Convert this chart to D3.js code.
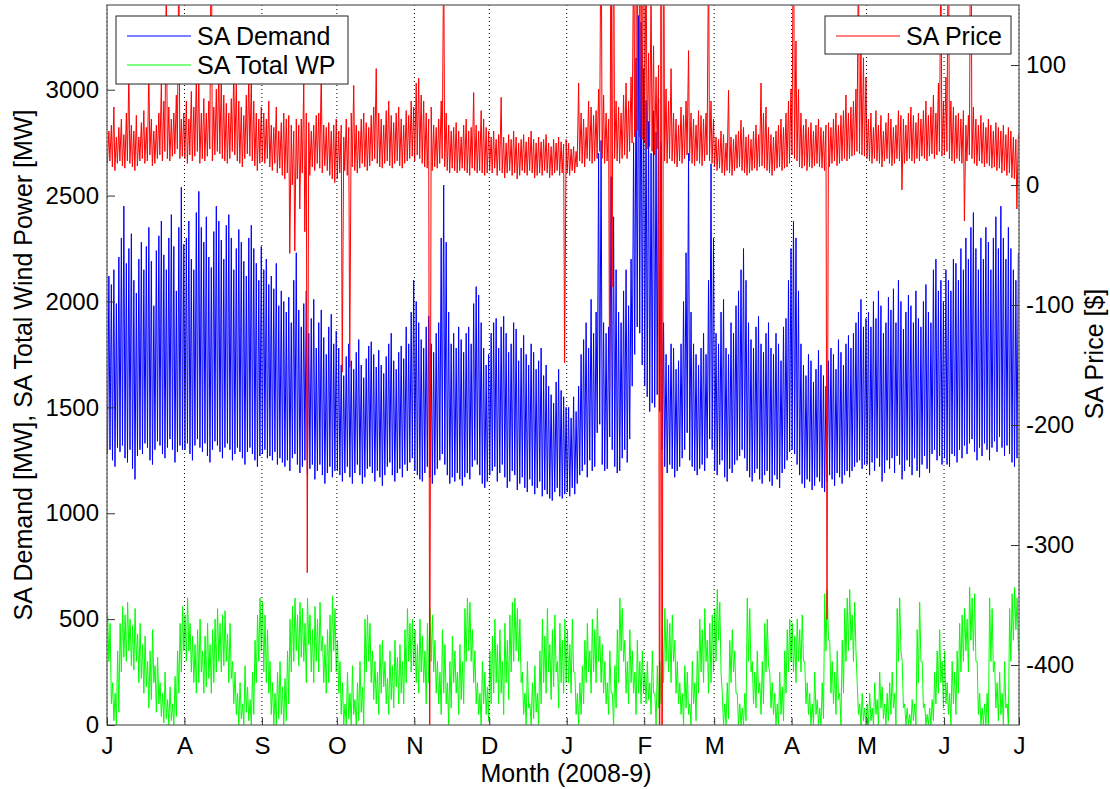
<!DOCTYPE html>
<html>
<head>
<meta charset="utf-8">
<script src="https://cdn.jsdelivr.net/npm/d3@7"></script>
<style>
body { margin: 0; background: #fff; }
svg { font-family: "Liberation Sans", Arial, sans-serif; }
</style>
</head>
<body>
<svg></svg>
<script>
// month tick labels, Jul 2008 .. Jul 2009
var tickLabels = ["J","A","S","O","N","D","J","F","M","A","M","J","J"];
var leftTicks = [0, 500, 1000, 1500, 2000, 2500, 3000];
var rightTicks = [-400, -300, -200, -100, 0, 100];

// daily peak / trough of SA demand [MW], one value per day from 1 Jul 2008
var demandHigh = [
2120,2080,2150,1990,2210,2300,2450,2180,2250,2320,2100,2040,2200,2280,2150,2260,2350,2190,1980,2240,2310,2380,2220,2150,2300,2410,2260,2050,2350,2540,2270,
2300,2380,2200,2150,2420,2520,2350,2280,2400,2210,2160,2330,2450,2380,2290,2200,2360,2410,2300,2150,2250,2340,2280,2190,2120,2300,2360,2250,2180,2100,2260,
2150,2200,2080,2120,2060,2180,1980,2050,2000,1950,2020,1900,2100,2230,1960,1880,1990,2050,1850,1920,2010,1780,1900,1960,1830,1750,1880,1940,1800,1860,
1780,1700,1650,1740,1800,1720,1680,1760,1820,1700,1640,1730,1790,1810,1750,1690,1770,1700,1660,1740,1800,1850,1720,1680,1760,1790,1730,1880,1800,1950,2100,
2000,1900,1820,1780,1880,1930,1800,1760,1850,1900,2300,2550,2280,1950,1800,1850,1780,1880,1820,1760,1850,1880,1800,1990,2070,2030,1900,1780,1700,1750,
1850,1900,1920,1780,1880,1930,1850,1760,1800,1900,1870,1720,1780,1840,1750,1700,1800,1760,1680,1720,1780,1650,1700,1600,1560,1520,1620,1680,1580,1550,1500,
1500,1450,1550,1480,1600,1750,1820,1900,1780,2010,1850,1950,2700,2760,1900,1850,1880,2590,2400,2150,1950,1900,2050,2150,1980,2200,2750,3150,3350,3320,3100,
2950,2850,2700,2900,2800,2960,2750,1900,1750,1700,1800,1780,1680,1720,1800,2000,2230,2700,1950,1800,1750,1700,1780,1850,1750,2100,2650,2300,
1850,1800,1950,2010,1780,1750,1900,1850,1980,2050,2150,2250,2100,1900,1820,1780,1880,1930,1800,1760,1850,1900,1780,1750,1850,1800,1720,1880,1920,2100,2250,
2380,2300,2050,1800,1700,1650,1750,1720,1620,1680,1770,1700,1650,1600,1720,1780,1750,1680,1820,1760,1700,1800,1840,1780,1850,1900,1950,2010,1880,1920,
1950,1880,2000,1920,2050,1980,1850,1900,2020,1960,2060,1900,2100,2000,1870,1950,2030,1980,1900,2050,1920,1880,2000,2080,1950,1900,2150,2200,2050,2100,2000,
2150,2100,2050,2200,2180,2100,2250,2150,2300,2200,2350,2420,2250,2150,2300,2200,2350,2280,2150,2300,2400,2250,2450,2300,2200,2350,2250,2150,2100,2230
];
var demandLow = [
1280,1300,1250,1220,1310,1290,1320,1260,1240,1300,1210,1160,1270,1300,1280,1330,1310,1250,1230,1300,1340,1320,1280,1260,1310,1350,1300,1240,1290,1320,1300,
1300,1330,1280,1250,1320,1350,1310,1290,1330,1270,1240,1300,1340,1320,1290,1260,1310,1330,1300,1250,1280,1310,1290,1260,1230,1290,1310,1280,1250,1220,1270,
1280,1300,1260,1270,1250,1290,1230,1260,1240,1220,1250,1200,1260,1280,1230,1190,1220,1250,1180,1210,1230,1160,1200,1230,1180,1140,1190,1220,1170,1200,
1200,1180,1150,1190,1220,1170,1140,1190,1230,1180,1140,1170,1210,1220,1190,1150,1200,1170,1130,1180,1220,1240,1180,1150,1190,1210,1170,1230,1200,1240,1260,
1200,1180,1160,1150,1190,1220,1170,1140,1180,1210,1250,1280,1230,1180,1140,1170,1150,1190,1160,1130,1170,1190,1160,1220,1250,1230,1180,1140,1120,1150,
1180,1200,1220,1150,1190,1230,1170,1120,1150,1200,1180,1110,1140,1170,1120,1100,1160,1130,1090,1120,1150,1080,1110,1090,1070,1060,1100,1120,1080,1070,1090,
1100,1080,1120,1090,1140,1180,1200,1230,1170,1250,1200,1220,1380,1420,1230,1200,1210,1360,1300,1220,1190,1200,1260,1300,1240,1350,1600,1750,1880,1850,1700,
1600,1550,1480,1520,1500,1560,1480,1300,1220,1190,1230,1210,1170,1200,1220,1260,1300,1380,1250,1220,1200,1180,1210,1230,1200,1260,1350,1300,
1200,1180,1230,1250,1170,1150,1210,1190,1230,1250,1270,1300,1260,1200,1170,1150,1190,1210,1160,1140,1180,1200,1150,1130,1180,1160,1120,1190,1210,1250,1290,
1300,1280,1230,1180,1140,1120,1160,1150,1110,1130,1170,1150,1120,1100,1150,1180,1160,1130,1190,1170,1140,1180,1200,1170,1200,1220,1240,1250,1210,1230,
1230,1180,1240,1200,1260,1220,1150,1190,1250,1210,1260,1190,1270,1230,1160,1200,1250,1220,1180,1260,1200,1170,1230,1270,1210,1190,1280,1300,1250,1270,1230,
1260,1230,1220,1280,1270,1240,1300,1260,1320,1280,1330,1350,1290,1250,1310,1270,1330,1300,1250,1310,1340,1290,1360,1310,1270,1320,1280,1240,1220,1260
];

// daily high / low of SA total wind power [MW]
var windHigh = [
520,480,200,150,350,480,560,520,580,500,470,550,430,480,380,420,300,350,450,280,320,200,150,250,120,180,100,230,350,480,560,
520,600,480,420,380,450,500,350,420,480,380,450,500,550,480,520,540,430,480,300,250,150,200,100,280,180,120,250,400,520,600,
580,520,450,300,200,150,250,300,180,220,350,500,560,600,520,580,550,480,600,520,450,560,500,580,420,380,450,520,610,550,
400,300,200,100,250,150,280,120,200,300,180,500,520,480,350,300,250,380,400,300,220,350,280,400,320,380,300,450,550,480,500,
450,380,500,420,350,480,550,520,400,300,250,450,380,200,300,420,350,250,380,300,550,600,580,450,350,200,150,300,250,180,
350,420,500,380,450,300,480,400,520,580,600,550,500,250,150,300,100,200,280,150,350,500,420,550,380,450,520,300,480,400,500,
450,380,500,250,150,200,280,400,480,350,500,450,550,420,380,300,200,350,150,280,450,600,550,400,300,450,350,250,400,300,350,
250,300,200,350,150,280,300,450,550,500,480,520,400,300,200,150,280,250,100,300,200,350,500,450,550,400,480,520,
550,640,580,150,100,200,400,450,350,150,100,80,150,600,550,300,250,350,200,300,480,500,250,200,150,100,250,180,350,450,500,
480,420,500,450,520,300,200,150,100,250,120,80,200,620,640,400,300,250,350,150,400,550,600,640,520,580,200,100,150,80,
100,150,80,200,120,250,180,100,150,200,250,150,550,600,300,100,80,50,120,100,450,580,300,100,50,80,120,250,350,450,300,
350,200,150,300,250,350,480,520,550,500,650,600,620,300,150,80,100,150,600,550,300,200,250,150,300,100,550,620,650,600
];
var windLow = [
300,100,20,0,60,250,320,300,350,280,260,300,200,220,150,180,80,120,200,60,100,40,10,30,0,20,0,40,150,250,350,
300,350,250,200,150,200,250,150,180,220,150,200,250,300,250,280,300,200,220,100,50,0,30,0,60,20,0,50,200,300,350,
250,200,150,50,0,0,30,50,0,20,100,250,300,350,280,320,300,200,380,250,200,300,250,350,200,150,200,250,350,250,
150,50,0,0,30,0,50,0,20,60,0,250,300,200,120,100,50,150,180,100,50,120,80,180,100,150,100,200,300,250,280,
200,150,250,200,100,200,300,250,150,100,50,150,100,0,80,200,150,50,120,100,300,350,300,200,100,50,0,100,50,20,
100,150,200,100,150,50,200,120,250,300,350,300,200,50,0,80,0,30,60,0,100,200,150,250,120,180,250,80,200,150,200,
200,150,250,50,0,50,100,200,250,150,250,200,300,200,150,100,50,150,0,80,200,350,300,150,100,200,150,50,150,100,150,
100,120,50,150,0,80,100,200,300,250,200,300,150,100,50,0,80,50,0,100,20,150,250,200,300,150,200,250,
300,400,250,0,0,30,200,250,150,0,0,0,20,300,250,100,80,150,50,100,250,280,80,50,0,0,50,20,150,250,300,
250,200,300,250,300,100,50,0,0,50,0,0,30,350,400,150,100,50,120,0,150,300,350,400,300,350,50,0,20,0,
0,20,0,50,0,80,30,0,20,50,80,0,300,350,80,0,0,0,20,0,200,300,80,0,0,0,20,100,150,200,80,
100,50,0,100,50,150,250,300,350,250,400,350,300,50,0,0,0,0,300,250,80,20,50,0,80,0,300,400,450,350
];

// daily high / low of SA price [$]
var priceHigh = [
45,50,65,40,48,55,42,60,92,50,45,58,40,52,62,48,95,55,45,50,60,85,70,180,65,55,60,75,200,55,60,
70,55,78,65,90,88,60,72,60,70,250,65,80,97,90,75,68,60,72,97,85,70,65,58,75,92,88,70,60,55,65,
60,55,70,50,48,65,45,52,60,55,58,50,45,55,50,55,87,60,52,45,50,58,60,95,50,48,52,45,50,55,
45,50,40,55,48,60,83,50,45,55,60,52,48,58,65,97,60,55,50,62,70,58,52,60,65,55,50,62,58,70,65,
85,89,75,70,60,55,65,50,48,55,70,200,60,50,45,48,52,45,40,50,55,45,48,77,50,45,62,55,48,45,
40,45,38,42,73,40,35,42,38,45,40,35,38,42,36,40,45,38,35,40,36,38,42,35,32,38,35,40,36,34,38,
35,30,32,28,85,60,55,48,70,65,58,62,80,250,75,60,55,300,250,70,65,60,75,85,70,90,200,400,500,300,250,
200,110,160,116,90,100,300,300,80,70,97,60,55,50,65,58,70,112,60,55,50,62,58,55,60,200,70,55,
40,38,45,42,35,79,40,38,42,45,54,48,40,42,38,45,50,42,85,60,65,48,42,40,45,50,55,48,60,70,80,
250,120,80,60,50,55,48,52,45,50,55,48,45,50,52,48,55,60,50,58,62,75,60,65,70,80,200,115,106,90,
55,60,48,62,50,58,45,52,60,55,48,50,62,58,55,50,60,65,58,52,60,55,62,70,58,65,75,60,85,200,70,
90,250,70,65,58,60,55,62,50,58,300,65,55,50,58,52,48,55,50,45,52,48,45,50,42,48,45,40,38,42
];
var priceLow = [
18,20,15,12,18,20,16,14,20,18,15,12,16,20,22,18,20,25,16,18,22,25,20,28,22,20,24,26,30,22,24,
22,18,25,20,24,28,18,22,20,24,30,20,25,28,26,22,20,18,22,28,25,20,18,15,22,26,24,20,16,12,18,
20,18,22,15,12,18,10,14,8,5,10,-57,0,-55,5,-20,10,-39,-323,8,15,12,18,14,10,16,12,8,5,2,
5,10,-156,12,8,-152,15,12,10,14,18,15,12,16,20,22,18,15,14,18,20,16,14,18,20,16,14,18,20,22,24,
20,25,22,18,15,14,-480,12,15,14,18,22,15,12,10,14,12,10,12,14,12,10,8,14,12,10,12,10,8,10,
12,10,14,8,12,10,6,10,12,8,10,5,8,12,10,8,12,10,6,8,10,8,12,10,6,8,10,12,8,10,-148,
10,8,12,10,15,20,18,15,22,20,18,20,22,28,22,18,20,-171,-85,22,20,18,22,25,22,28,35,40,45,40,38,
35,30,32,28,25,30,-600,-600,20,18,22,20,18,15,20,18,22,25,20,18,16,20,18,16,20,25,20,18,
15,12,14,10,8,12,10,8,12,14,15,12,10,8,10,12,14,12,15,16,14,12,10,8,12,14,15,12,14,15,18,
25,22,20,15,14,16,12,15,14,16,18,15,14,12,-362,15,18,20,16,18,20,22,20,22,24,25,28,26,25,24,
22,20,18,22,20,18,15,20,22,18,16,18,22,20,-4,18,20,22,20,18,22,20,24,22,20,24,26,22,25,28,24,
25,28,22,20,18,22,20,18,-30,20,25,22,18,16,20,18,15,18,16,14,15,12,14,10,12,8,10,6,5,-20
];

var svgW = 1110, svgH = 789;
var L = 107, R = 1019, T = 5, B = 725;

var svg = d3.select('svg').attr('width', svgW).attr('height', svgH);

var start = new Date(Date.UTC(2008, 6, 1));
var end = new Date(Date.UTC(2009, 6, 1));
var x = d3.scaleUtc().domain([start, end]).range([L, R]);
var yL = d3.scaleLinear().domain([0, 3400]).range([B, T]);
var yR = d3.scaleLinear().domain([-450, 150]).range([B, T]);
var monthTicks = d3.utcMonth.range(start, d3.utcDay.offset(end, 1));

function at(i, f) { return new Date(start.getTime() + (i + f) * 864e5); }

// one day = low point then high point, so the daily swing shows as a zigzag
function zig(lo, hi, fLo, fHi) {
    var pts = [];
    lo.forEach(function(v, i) {
        var a = [at(i, fLo), v], b = [at(i, fHi), hi[i]];
        if (fLo < fHi) pts.push(a, b); else pts.push(b, a);
    });
    return pts;
}

svg.append('clipPath').attr('id', 'plot')
  .append('rect').attr('x', L).attr('y', T).attr('width', R - L).attr('height', B - T);

var g = svg.append('g').attr('clip-path', 'url(#plot)');

var lineL = d3.line().x(function(d){return x(d[0]);}).y(function(d){return yL(d[1]);});
var lineR = d3.line().x(function(d){return x(d[0]);}).y(function(d){return yR(d[1]);});

g.append('path').datum(zig(demandLow, demandHigh, 0.2, 0.75))
  .attr('d', lineL).attr('fill', 'none').attr('stroke', '#0000ff').attr('stroke-width', 1);
g.append('path').datum(zig(windLow, windHigh, 0.75, 0.25))
  .attr('d', lineL).attr('fill', 'none').attr('stroke', '#00ff00').attr('stroke-width', 1);

// dotted month grid
svg.append('g').selectAll('line').data(monthTicks).enter().append('line')
  .attr('x1', function(d){return x(d);}).attr('x2', function(d){return x(d);})
  .attr('y1', T).attr('y2', B)
  .attr('stroke', '#000').attr('stroke-width', 1).attr('stroke-dasharray', '1,3');

g.append('path').datum(zig(priceLow, priceHigh, 0.15, 0.75))
  .attr('d', lineR).attr('fill', 'none').attr('stroke', '#ff0000').attr('stroke-width', 1);

// frame
svg.append('rect').attr('x', L).attr('y', T).attr('width', R - L).attr('height', B - T)
  .attr('fill', 'none').attr('stroke', '#666').attr('stroke-width', 1.3);

var plain = function(d){ return String(d); };
var ax = svg.append('g').attr('transform', 'translate(0,' + B + ')')
  .call(d3.axisBottom(x).tickValues(monthTicks)
        .tickFormat(function(d, i){return tickLabels[i];})
        .tickSizeInner(-7).tickSizeOuter(0).tickPadding(12));
var ayL = svg.append('g').attr('transform', 'translate(' + L + ',0)')
  .call(d3.axisLeft(yL).tickValues(leftTicks).tickFormat(plain).tickSizeInner(-8).tickSizeOuter(0).tickPadding(8));
var ayR = svg.append('g').attr('transform', 'translate(' + R + ',0)')
  .call(d3.axisRight(yR).tickValues(rightTicks).tickFormat(plain).tickSizeInner(-8).tickSizeOuter(0).tickPadding(7));

[ax, ayL, ayR].forEach(function(a) {
    a.select('.domain').remove();
    a.selectAll('line').attr('stroke', '#333');
    a.selectAll('text').attr('font-size', 24).attr('fill', '#000')
      .attr('font-family', '"Liberation Sans", Arial, sans-serif');
});

// axis titles
svg.append('text').attr('x', 566).attr('y', 782).attr('text-anchor', 'middle')
  .attr('font-size', 25).text('Month (2008-9)');
svg.append('text').attr('transform', 'translate(32,365) rotate(-90)').attr('text-anchor', 'middle')
  .attr('font-size', 25).text('SA Demand [MW], SA Total Wind Power [MW]');
svg.append('text').attr('transform', 'translate(1103,354) rotate(-90)').attr('text-anchor', 'middle')
  .attr('font-size', 25).text('SA Price [$]');

// legends
function legend(x0, y0, w, items) {
    var lg = svg.append('g');
    lg.append('rect').attr('x', x0).attr('y', y0).attr('width', w).attr('height', 8 + items.length * 30)
      .attr('fill', '#fff').attr('stroke', '#222').attr('stroke-width', 1);
    items.forEach(function(it, i) {
        var yy = y0 + 20 + i * 29;
        lg.append('line').attr('x1', x0 + 11).attr('x2', x0 + 75).attr('y1', yy).attr('y2', yy)
          .attr('stroke', it[1]).attr('stroke-width', 1);
        lg.append('text').attr('x', x0 + 81).attr('y', yy + 9).attr('font-size', 25).text(it[0]);
    });
}
legend(116, 16, 232, [['SA Demand', '#0000ff'], ['SA Total WP', '#00ff00']]);
legend(825, 16, 186, [['SA Price', '#ff0000']]);
</script>
</body>
</html>
